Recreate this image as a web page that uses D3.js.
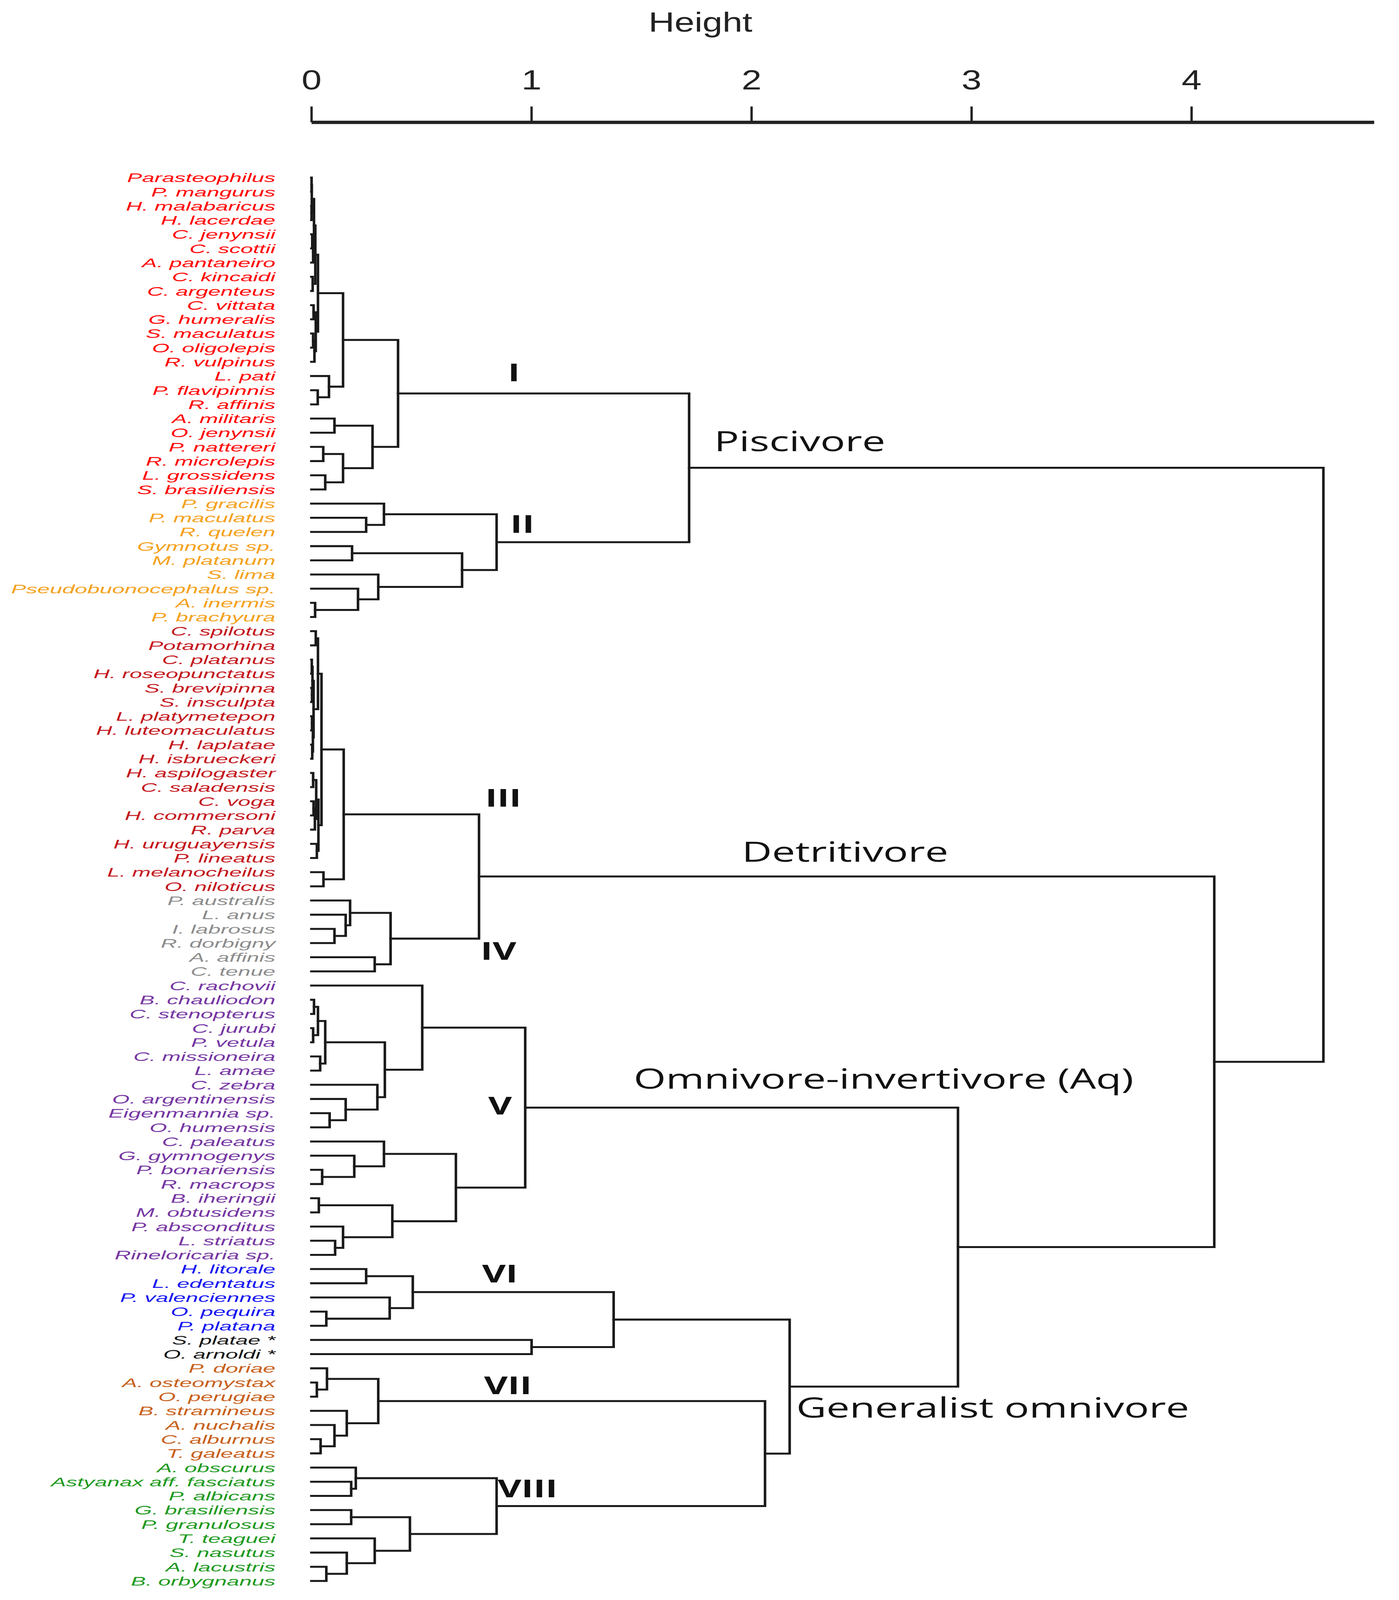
<!DOCTYPE html>
<html>
<head>
<meta charset="utf-8">
<title>Dendrogram of trophic guilds</title>
<style>
  html, body { margin: 0; padding: 0; width: 100%; height: 100%; overflow: hidden; background: #fff; }
  #chart { display: block; width: 100vw; height: 100vh; }
  .branch { fill: none; stroke: #1a1a1a; stroke-width: 6.5px; stroke-linejoin: miter; stroke-linecap: square; }
  .leaf-label { font-family: 'Liberation Sans', Arial, sans-serif; font-style: italic; font-size: 41px; }
  .group-label { font-family: 'Open Sans', sans-serif; font-weight: 700; font-size: 81px; fill: #111; }
  .guild-label { font-family: 'Open Sans', sans-serif; font-size: 91px; fill: #111; }
  .axis text { font-family: 'Liberation Sans', Arial, sans-serif; font-size: 92px; fill: #222; }
  .axis .domain { stroke: #222; stroke-width: 11px; }
  .axis .tick line { stroke: #222; stroke-width: 6px; }
</style>
</head>
<body>
<svg id="chart"></svg>
<script src="https://d3js.org/d3.v7.min.js"></script>
<script>
// every internal node is [left, right, height]; leaves are names
const clusterI = [
  [
    [
      [
        [[["Parasteophilus", "P. mangurus", 0.001], ["H. malabaricus", "H. lacerdae", 0.001], 0.002],
         [["C. jenynsii", "C. scottii", 0.004], "A. pantaneiro", 0.008], 0.012],
        ["C. kincaidi", "C. argenteus", 0.006], 0.018],
      [["C. vittata", "G. humeralis", 0.01], [["S. maculatus", "O. oligolepis", 0.008], "R. vulpinus", 0.014], 0.02],
      0.03],
    ["L. pati", ["P. flavipinnis", "R. affinis", 0.029], 0.08],
    0.144],
  [["A. militaris", "O. jenynsii", 0.105],
   [["P. nattereri", "R. microlepis", 0.054], ["L. grossidens", "S. brasiliensis", 0.063], 0.144], 0.278],
  0.394];

const clusterII = [
  ["P. gracilis", ["P. maculatus", "R. quelen", 0.249], 0.33],
  [["Gymnotus sp.", "M. platanum", 0.185],
   ["S. lima", ["Pseudobuonocephalus sp.", ["A. inermis", "P. brachyura", 0.017], 0.212], 0.304], 0.685],
  0.842];

const clusterIII = [
  [
    [["C. spilotus", "Potamorhina", 0.02],
     [[["C. platanus", "H. roseopunctatus", 0.002], ["S. brevipinna", "S. insculpta", 0.003], 0.005],
      [["L. platymetepon", "H. luteomaculatus", 0.003], ["H. laplatae", "H. isbrueckeri", 0.004], 0.007], 0.01],
     0.03],
    [[["H. aspilogaster", "C. saladensis", 0.008], [["C. voga", "H. commersoni", 0.01], "R. parva", 0.016], 0.022],
     ["H. uruguayensis", "P. lineatus", 0.025], 0.032],
    0.046],
  ["L. melanocheilus", "O. niloticus", 0.055],
  0.147];

const clusterIV = [
  ["P. australis", ["L. anus", ["I. labrosus", "R. dorbigny", 0.105], 0.156], 0.176],
  ["A. affinis", "C. tenue", 0.288],
  0.36];

const clusterV = [
  ["C. rachovii",
   [[[["B. chauliodon", "C. stenopterus", 0.012], ["C. jurubi", "P. vetula", 0.008], 0.03],
     ["C. missioneira", "L. amae", 0.04], 0.063],
    ["C. zebra", ["O. argentinensis", ["Eigenmannia sp.", "O. humensis", 0.083], 0.156], 0.30], 0.334],
   0.504],
  [["C. paleatus", ["G. gymnogenys", ["P. bonariensis", "R. macrops", 0.049], 0.195], 0.33],
   [["B. iheringii", "M. obtusidens", 0.034], ["P. absconditus", ["L. striatus", "Rineloricaria sp.", 0.108], 0.144], 0.368],
   0.657],
  0.972];

const clusterVI = [
  ["H. litorale", "L. edentatus", 0.249],
  ["P. valenciennes", ["O. pequira", "P. platana", 0.068], 0.356],
  0.461];

const ungrouped = ["S. platae *", "O. arnoldi *", 1.001];

const clusterVII = [
  ["P. doriae", ["A. osteomystax", "O. perugiae", 0.025], 0.071],
  ["B. stramineus", ["A. nuchalis", ["C. alburnus", "T. galeatus", 0.042], 0.105], 0.161],
  0.304];

const clusterVIII = [
  ["A. obscurus", ["Astyanax aff. fasciatus", "P. albicans", 0.181], 0.202],
  [["G. brasiliensis", "P. granulosus", 0.181],
   ["T. teaguei", ["S. nasutus", ["A. lacustris", "B. orbygnanus", 0.068], 0.161], 0.288], 0.448],
  0.842];

// upper merges
const piscivore = [clusterI, clusterII, 1.717];
const detritivore = [clusterIII, clusterIV, 0.762];
const generalist = [[clusterVI, ungrouped, 1.374], [clusterVII, clusterVIII, 2.062], 2.174];
const omnivore = [clusterV, generalist, 2.939];
const tree = [piscivore, [detritivore, omnivore, 4.104], 4.60];

// leaf colour groups, in leaf order
const groupSizes = [23, 9, 19, 6, 20, 5, 2, 7, 9];
const groupColors = ["#ff0000", "#f5a11c", "#c4161c", "#8c8c8c", "#7636a3", "#1414f0", "#111111", "#c8601a", "#1e9a1e"];

const tickValues = [0, 1, 2, 3, 4];

// drawing space; the svg is stretched to whatever the window gives
const width = 3581, height = 5289;
const svg = d3.select("#chart")
  .attr("viewBox", `0 0 ${width} ${height}`)
  .attr("preserveAspectRatio", "none");

svg.append("rect").attr("width", width).attr("height", height).attr("fill", "#fff");

const root = d3.hierarchy(tree, d => Array.isArray(d) ? [d[0], d[1]] : null);
root.each(n => { n.h = Array.isArray(n.data) ? n.data[2] : 0; });
const leaves = root.leaves();
const leafNames = leaves.map(d => d.data);

const x = d3.scaleLinear().domain([0, 4.83]).range([797, 3517]);
const y = d3.scalePoint().domain(leafNames).range([587, 5226]);

root.eachAfter(n => {
  n.y = n.children ? (n.children[0].y + n.children[1].y) / 2 : y(n.data);
});

const groupOf = d3.scaleThreshold()
  .domain(d3.cumsum(groupSizes).slice(0, -1))
  .range(groupColors);

// branches
svg.append("g").selectAll("path")
  .data(root.descendants().filter(d => d.children))
  .join("path")
  .attr("class", "branch")
  .attr("d", n => {
    const [a, b] = n.children;
    return `M${x(a.h)},${a.y}H${x(n.h)}V${b.y}H${x(b.h)}`;
  });

// leaf labels
svg.append("g").selectAll("text")
  .data(leaves)
  .join("text")
  .attr("class", "leaf-label")
  .attr("text-anchor", "end")
  .attr("transform", d => `translate(${x(0) - 92},${d.y + 15}) scale(1.4,1)`)
  .attr("fill", (d, i) => groupOf(i))
  .text(d => d.data);

// axis
svg.append("g").attr("class", "axis")
  .attr("transform", "translate(0,404)")
  .call(d3.axisTop(x).tickValues(tickValues).tickFormat(d3.format("d"))
    .tickSize(52).tickSizeOuter(0).tickPadding(56));

svg.append("text")
  .attr("x", 1793).attr("y", 104)
  .attr("text-anchor", "middle")
  .style("font-family", "'Liberation Sans', Arial, sans-serif")
  .style("font-size", "92px").style("fill", "#222")
  .text("Height");

// cluster and guild annotations, placed in data units [height, leaf position]
const pos = p => y.range()[0] + p * y.step();
const groupLabels = [
  ["I", 0.893, 14.38], ["II", 0.904, 25.07], ["III", 0.790, 44.39], ["IV", 0.769, 55.19],
  ["V", 0.804, 66.09], ["VI", 0.776, 77.94], ["VII", 0.785, 85.83], ["VIII", 0.847, 93.11]
];
const guildLabels = [
  ["Piscivore", 1.831, 19.31], ["Detritivore", 1.957, 48.27],
  ["Omnivore-invertivore (Aq)", 1.465, 64.26], ["Generalist omnivore", 2.204, 87.47]
];

svg.append("g").selectAll("text")
  .data(groupLabels)
  .join("text")
  .attr("class", "group-label")
  .attr("transform", d => `translate(${x(d[1])},${pos(d[2])}) scale(1.15,1)`)
  .text(d => d[0]);

svg.append("g").selectAll("text")
  .data(guildLabels)
  .join("text")
  .attr("class", "guild-label")
  .attr("transform", d => `translate(${x(d[1])},${pos(d[2])}) scale(1.165,1)`)
  .text(d => d[0]);
</script>
</body>
</html>
